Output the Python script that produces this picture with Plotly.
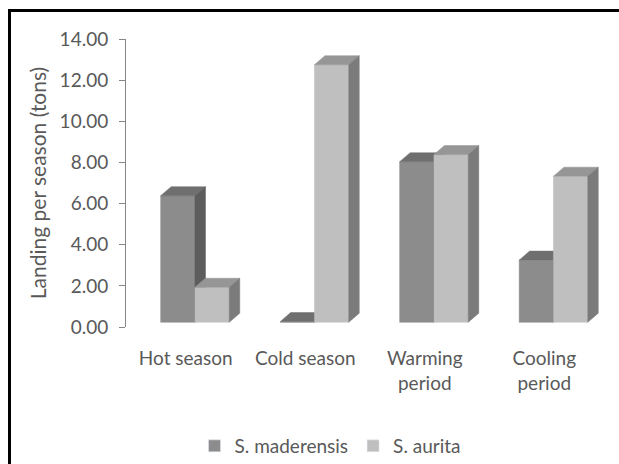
import plotly.graph_objects as go

# ---- data ----
categories = ["Hot season", "Cold season", "Warming<br>period", "Cooling<br>period"]
maderensis = [6.15, 0.03, 7.80, 3.02]
aurita = [1.70, 12.52, 8.15, 7.10]
series_names = ["S. maderensis", "S. aurita"]
y_ticks = [0, 2, 4, 6, 8, 10, 12, 14]

# ---- style ----
W, H = 619, 464
ML, MR, MT, MB = 126, 15, 39, 137
FONT = "Lato"
TXT = "#595959"
AXIS = "#868686"
front_colors = ["#8c8c8c", "#bfbfbf"]
top_colors = ["#6f6f6f", "#969696"]
side_colors = ["#5d5d5d", "#7b7b7b"]

BAR_W = 0.287   # bar width in category units
SHIFT = 0.077   # horizontal shift of the bar pair from the category centre
BASE = 0.23     # vertical lift of the bar base (depth effect)
DX, DY = 0.088, 0.44  # 3-D depth offsets

fig = go.Figure()

all_series = [maderensis, aurita]
for s, vals in enumerate(all_series):
    fx, fy, tx, ty, sx, sy = [], [], [], [], [], []
    for i, v in enumerate(vals):
        x0 = i + SHIFT - BAR_W + s * BAR_W
        x1 = x0 + BAR_W
        y0 = BASE
        y1 = BASE + v
        fx += [x0, x1, x1, x0, x0, None]
        fy += [y0, y0, y1, y1, y0, None]
        tx += [x0, x1, x1 + DX, x0 + DX, x0, None]
        ty += [y1, y1, y1 + DY, y1 + DY, y1, None]
        sx += [x1, x1 + DX, x1 + DX, x1, x1, None]
        sy += [y0, y0 + DY, y1 + DY, y1, y0, None]
    for xs, ys, c in [(fx, fy, front_colors[s]), (tx, ty, top_colors[s]), (sx, sy, side_colors[s])]:
        fig.add_trace(go.Scatter(
            x=xs, y=ys, mode="lines", fill="toself", fillcolor=c,
            line=dict(color=c, width=0.5), hoverinfo="skip", showlegend=False,
        ))

# legend entries
for s, name in enumerate(series_names):
    fig.add_trace(go.Bar(x=[None], y=[None], name=name, marker_color=front_colors[s]))

pw = W - ML - MR
ph = H - MT - MB
def px_to_paper_x(px):
    return (px - ML) / pw
def px_to_paper_y(py):
    return (H - MB - py) / ph

fig.update_layout(
    width=W, height=H, autosize=False,
    margin=dict(l=ML, r=MR, t=MT, b=MB, pad=0),
    paper_bgcolor="white", plot_bgcolor="white",
    font=dict(family=FONT, color=TXT, size=19),
    showlegend=True,
    legend=dict(
        orientation="h", xref="container", yref="container",
        xanchor="center", yanchor="middle",
        x=330 / W, y=1 - 446 / H,
        font=dict(size=19, color=TXT, family=FONT),
        bgcolor="rgba(0,0,0,0)", itemwidth=30,
    ),
    xaxis=dict(
        type="linear", range=[-0.5, 3.5], automargin=False,
        tickvals=list(range(len(categories))), ticktext=categories,
        showline=False, showgrid=False, zeroline=False, ticks="",
        tickfont=dict(size=19, color=TXT, family=FONT),
        ticklabelstandoff=18, fixedrange=True,
    ),
    yaxis=dict(
        range=[0, 14], tickvals=y_ticks, tickformat=".2f", automargin=False,
        showline=True, linecolor=AXIS, linewidth=1,
        ticks="outside", ticklen=6, tickcolor=AXIS, tickwidth=1,
        showgrid=False, zeroline=False,
        tickfont=dict(size=19, color=TXT, family=FONT),
        ticklabelstandoff=7,
        title=dict(text="Landing per season (tons)", font=dict(size=21, color=TXT, family=FONT), standoff=7),
        fixedrange=True,
    ),
    shapes=[dict(
        type="rect", xref="paper", yref="paper",
        x0=px_to_paper_x(9.5), x1=px_to_paper_x(640),
        y0=px_to_paper_y(490), y1=px_to_paper_y(10.5),
        line=dict(color="black", width=3), fillcolor="rgba(0,0,0,0)",
    )],
)

fig.write_html("out.html", config={"displayModeBar": False},
               post_script="document.body.style.margin='0';")
